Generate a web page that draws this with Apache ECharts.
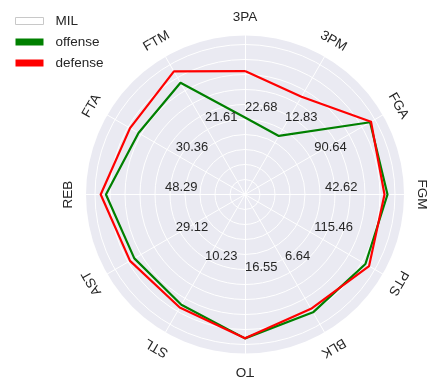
<!DOCTYPE html>
<html>
<head>
<meta charset="utf-8">
<script src="https://cdn.jsdelivr.net/npm/echarts@6/dist/echarts.min.js"></script>
<style>html,body{margin:0;padding:0;background:#fff}#c{width:437px;height:388px}</style>
</head>
<body>
<div id="c"></div>
<script>
// Axes listed clockwise from the top
const categories = ['3PA', '3PM', 'FGA', 'FGM', 'PTS', 'BLK', 'TO', 'STL', 'AST', 'REB', 'FTA', 'FTM'];
// Mid-scale tick label shown on each axis
const tickLabels = ['22.68', '12.83', '90.64', '42.62', '115.46', '6.64', '16.55', '10.23', '29.12', '48.29', '30.36', '21.61'];
// Normalised scores (0 = centre, 1 = outermost grid ring)
const offense = [0.513, 0.451, 0.963, 0.950, 0.927, 0.907, 0.959, 0.849, 0.852, 0.927, 0.820, 0.860];
const defense = [0.823, 0.753, 0.970, 0.930, 0.955, 0.880, 0.959, 0.870, 0.885, 0.962, 0.885, 0.948];
const legendNames = ['MIL', 'offense', 'defense'];

const CX = 245, CY = 194.5, R_GRID = 150, R_BG = 159, R_NAME = 177, R_TICK = 80;
const FONT = '"Liberation Sans", Arial, sans-serif';
const TXT = '#262626';

// ECharts radar goes counter-clockwise; reorder clockwise list accordingly
const n = categories.length;
const ccwIdx = [0];
for (let k = n - 1; k >= 1; k--) ccwIdx.push(k);
const reorder = arr => ccwIdx.map(i => arr[i]);

const indicators = reorder(categories).map(name => ({ name: name, min: 0, max: 1 }));

const graphics = [];
categories.forEach((name, i) => {
  const th = (90 - 30 * i) * Math.PI / 180;
  graphics.push({
    type: 'text', x: CX + R_NAME * Math.cos(th), y: CY - R_NAME * Math.sin(th),
    rotation: -i * 30 * Math.PI / 180, z: 100,
    style: { text: name, fill: TXT, font: '13.5px ' + FONT, align: 'center', verticalAlign: 'middle' }
  });
  graphics.push({
    type: 'text', x: CX + R_TICK * Math.cos(th), y: CY - R_TICK * Math.sin(th) - 1, z: 100,
    style: { text: tickLabels[i], fill: TXT, font: '13px ' + FONT, align: 'left', verticalAlign: 'bottom' }
  });
});

const chart = echarts.init(document.getElementById('c'));
chart.setOption({
  animation: false,
  backgroundColor: '#fff',
  legend: {
    orient: 'vertical', left: 15, top: 13, padding: 0, itemGap: 5, itemWidth: 28, itemHeight: 7,
    icon: 'rect', selectedMode: false,
    textStyle: { color: TXT, fontSize: 13.5, fontFamily: FONT, padding: [0, 0, 0, 7], lineHeight: 16 },
    data: [
      { name: legendNames[0], itemStyle: { color: '#ffffff', borderColor: '#c8c8c8', borderWidth: 1 } },
      { name: legendNames[1], itemStyle: { color: '#008000' } },
      { name: legendNames[2], itemStyle: { color: '#ff0000' } }
    ]
  },
  radar: [
    {
      center: [CX, CY], radius: R_BG, shape: 'circle', splitNumber: 1, startAngle: 90,
      indicator: indicators,
      axisName: { show: false },
      axisLine: { lineStyle: { color: '#ffffff', width: 1 } },
      splitLine: { show: false },
      splitArea: { show: true, areaStyle: { color: ['#EAEAF2'] } }
    },
    {
      center: [CX, CY], radius: R_GRID, shape: 'circle', splitNumber: 10, startAngle: 90,
      indicator: indicators,
      axisName: { show: false },
      axisLine: { show: false },
      splitLine: { lineStyle: { color: '#ffffff', width: 1 } },
      splitArea: { show: false }
    }
  ],
  series: [{
    type: 'radar', radarIndex: 1, symbol: 'none', z: 5,
    data: [
      { name: legendNames[0], value: categories.map(() => '-'), lineStyle: { opacity: 0 }, itemStyle: { color: '#ffffff' } },
      { name: legendNames[1], value: reorder(offense), lineStyle: { color: '#008000', width: 2.2 }, itemStyle: { color: '#008000' } },
      { name: legendNames[2], value: reorder(defense), lineStyle: { color: '#ff0000', width: 2.2 }, itemStyle: { color: '#ff0000' } }
    ]
  }],
  graphic: graphics
});
</script>
</body>
</html>
